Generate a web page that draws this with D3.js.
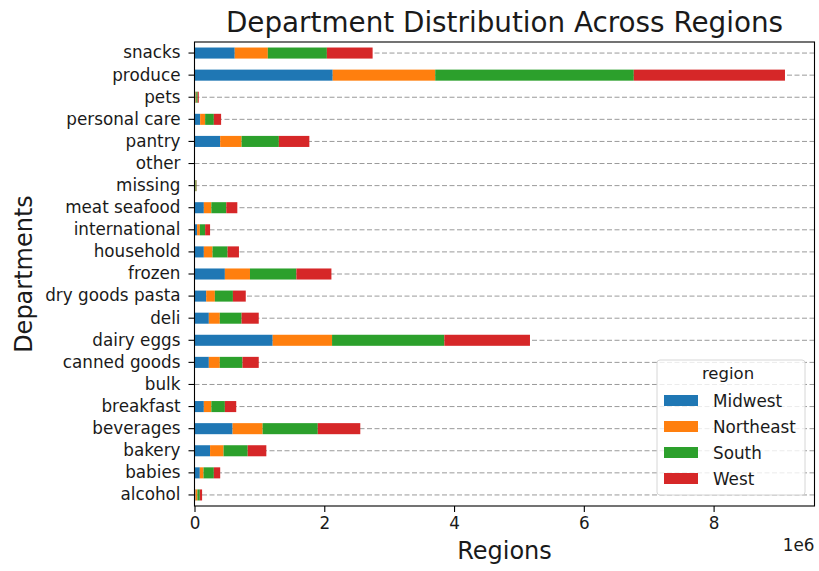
<!DOCTYPE html>
<html>
<head>
<meta charset="utf-8">
<script src="https://cdn.jsdelivr.net/npm/d3@7"></script>
<style>
  body { margin: 0; background: #fff; }
  text { font-family: "DejaVu Sans", sans-serif; fill: #1a1a1a; }
</style>
</head>
<body>
<svg id="chart" width="819" height="571"></svg>
<script>
// departments, bottom to top as in the reference
const departments = ["alcohol", "babies", "bakery", "beverages", "breakfast", "bulk",
  "canned goods", "dairy eggs", "deli", "dry goods pasta", "frozen", "household",
  "international", "meat seafood", "missing", "other", "pantry", "personal care",
  "pets", "produce", "snacks"];
const regions = ["Midwest", "Northeast", "South", "West"];
const colors = ["#1f77b4", "#ff7f0e", "#2ca02c", "#d62728"];

// values in millions, same order as departments
const midwest   = [0.015, 0.082, 0.24, 0.587, 0.144, 0.001, 0.221, 1.205, 0.221, 0.18, 0.468, 0.144, 0.04, 0.144, 0.009, 0.0005, 0.396, 0.087, 0.015, 2.13, 0.62];
const northeast = [0.03, 0.057, 0.208, 0.463, 0.116, 0.001, 0.169, 0.915, 0.169, 0.134, 0.387, 0.134, 0.042, 0.116, 0.007, 0.0003, 0.33, 0.077, 0.012, 1.58, 0.51];
const south     = [0.037, 0.159, 0.372, 0.85, 0.208, 0.0015, 0.35, 1.73, 0.336, 0.278, 0.715, 0.232, 0.082, 0.23, 0.013, 0.0006, 0.574, 0.134, 0.022, 3.06, 0.91];
const west      = [0.035, 0.098, 0.287, 0.655, 0.175, 0.001, 0.25, 1.32, 0.264, 0.198, 0.54, 0.175, 0.076, 0.17, 0.004, 0.0004, 0.47, 0.112, 0.017, 2.33, 0.705];
const xTicks = [0, 2, 4, 6, 8];

const series = [midwest, northeast, south, west];
const rows = departments.map((d, i) => {
  const r = { dept: d };
  regions.forEach((g, k) => (r[g] = series[k][i] * 1e6));
  return r;
});

const width = 819;
const height = 571;
const marginLeft = 194.5;
const marginRight = 4.5;
const marginTop = 42;
const marginBottom = 65;

const svg = d3.select("#chart");

const maxTotal = d3.max(rows, (r) => d3.sum(regions, (g) => r[g]));
const x = d3
  .scaleLinear()
  .domain([0, maxTotal * 1.05])
  .range([marginLeft, width - marginRight]);

const y = d3
  .scaleBand()
  .domain(departments.slice().reverse())
  .range([marginTop, height - marginBottom])
  .paddingInner(0)
  .paddingOuter(0);

const barH = y.bandwidth() * 0.5;

// grid lines (dashed, behind bars)
svg
  .append("g")
  .selectAll("line")
  .data(departments)
  .join("line")
  .attr("x1", marginLeft)
  .attr("x2", width - marginRight)
  .attr("y1", (d) => y(d) + y.bandwidth() / 2)
  .attr("y2", (d) => y(d) + y.bandwidth() / 2)
  .attr("stroke", "#9a9a9a")
  .attr("stroke-width", 1)
  .attr("stroke-dasharray", "5,2.5");

// stacked bars
const stacked = d3.stack().keys(regions)(rows);
svg
  .append("g")
  .selectAll("g")
  .data(stacked)
  .join("g")
  .attr("fill", (d, i) => colors[i])
  .selectAll("rect")
  .data((d) => d)
  .join("rect")
  .attr("x", (d) => x(d[0]))
  .attr("width", (d) => Math.max(0, x(d[1]) - x(d[0])))
  .attr("y", (d) => y(d.data.dept) + (y.bandwidth() - barH) / 2)
  .attr("height", barH);

// axes
const xAxis = svg
  .append("g")
  .attr("transform", `translate(0,${height - marginBottom})`)
  .call(
    d3.axisBottom(x)
      .tickValues(xTicks.map((t) => t * 1e6))
      .tickFormat((d) => d / 1e6)
      .tickSizeOuter(0)
      .tickSize(6)
      .tickPadding(5)
  );
const yAxis = svg
  .append("g")
  .attr("transform", `translate(${marginLeft},0)`)
  .call(d3.axisLeft(y).tickSizeOuter(0).tickSize(6).tickPadding(8));

[xAxis, yAxis].forEach((g) => {
  g.select(".domain").remove();
  g.selectAll("line").attr("stroke", "#000").attr("stroke-width", 1.1);
  g.selectAll("text")
    .attr("font-family", "DejaVu Sans")
    .attr("font-size", 16.8)
    .attr("fill", "#1a1a1a");
});

// frame
svg
  .append("rect")
  .attr("x", marginLeft)
  .attr("y", marginTop)
  .attr("width", width - marginLeft - marginRight)
  .attr("height", height - marginTop - marginBottom)
  .attr("fill", "none")
  .attr("stroke", "#000")
  .attr("stroke-width", 1.1);

// title and labels
svg
  .append("text")
  .attr("x", (marginLeft + width - marginRight) / 2)
  .attr("y", 32)
  .attr("text-anchor", "middle")
  .attr("font-size", 27.8)
  .text("Department Distribution Across Regions");

svg
  .append("text")
  .attr("x", (marginLeft + width - marginRight) / 2)
  .attr("y", 559)
  .attr("text-anchor", "middle")
  .attr("font-size", 24)
  .text("Regions");

svg
  .append("text")
  .attr("transform", `translate(32,${(marginTop + height - marginBottom) / 2}) rotate(-90)`)
  .attr("text-anchor", "middle")
  .attr("font-size", 24)
  .text("Departments");

svg
  .append("text")
  .attr("x", width - marginRight)
  .attr("y", 551)
  .attr("text-anchor", "end")
  .attr("font-size", 16.8)
  .text("1e6");

// legend
const legend = svg.append("g").attr("transform", "translate(657,360)");
legend
  .append("rect")
  .attr("width", 148)
  .attr("height", 135)
  .attr("rx", 3)
  .attr("fill", "#fff")
  .attr("fill-opacity", 0.8)
  .attr("stroke", "#d6d6d6");
legend
  .append("text")
  .attr("x", 71)
  .attr("y", 19)
  .attr("text-anchor", "middle")
  .attr("font-size", 16.5)
  .text("region");
const items = legend
  .selectAll("g.item")
  .data(regions)
  .join("g")
  .attr("class", "item")
  .attr("transform", (d, i) => `translate(0,${41 + i * 26})`);
items
  .append("rect")
  .attr("x", 7)
  .attr("y", -6)
  .attr("width", 34)
  .attr("height", 11)
  .attr("fill", (d, i) => colors[i]);
items
  .append("text")
  .attr("x", 56)
  .attr("y", 6)
  .attr("font-size", 16.8)
  .text((d) => d);
</script>
</body>
</html>
